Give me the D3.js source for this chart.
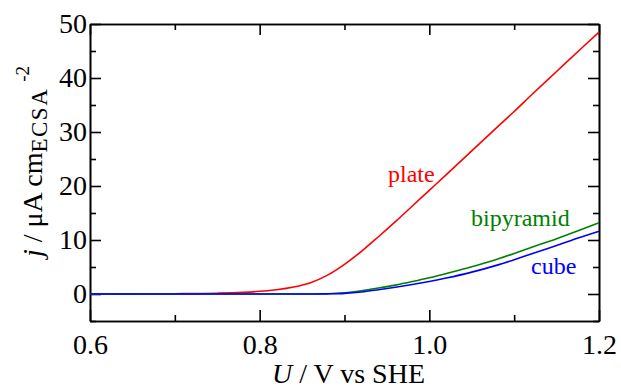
<!DOCTYPE html>
<html>
<head>
<meta charset="utf-8">
<script src="https://cdn.jsdelivr.net/npm/d3@7/dist/d3.min.js"></script>
<style>
  html, body { margin: 0; padding: 0; background: #fff; }
  svg { display: block; }
</style>
</head>
<body>
<svg id="chart" width="621" height="391" font-family="Liberation Serif"></svg>
<script>
// ---- data ----
const potential = [0.60, 0.65, 0.70, 0.75, 0.78, 0.80, 0.82, 0.84, 0.86, 0.88, 0.90, 0.92, 0.94, 0.96, 0.98, 1.00, 1.02, 1.05, 1.08, 1.10, 1.12, 1.15, 1.18, 1.20];
const plate     = [0.00, 0.02, 0.06, 0.15, 0.30, 0.50, 0.80, 1.30, 2.10, 3.50, 5.50, 7.90, 10.6, 13.4, 16.3, 19.2, 22.1, 26.5, 30.9, 33.8, 36.8, 41.2, 45.6, 48.5];
const bipyramid = [0.00, 0.00, 0.00, 0.00, 0.00, 0.00, 0.00, 0.00, 0.01, 0.06, 0.22, 0.60, 1.10, 1.65, 2.30, 3.00, 3.80, 5.05, 6.45, 7.50, 8.60, 10.25, 12.0, 13.2];
const cube      = [0.00, 0.00, 0.00, 0.00, 0.00, 0.00, 0.00, 0.00, 0.00, 0.03, 0.12, 0.38, 0.80, 1.25, 1.75, 2.30, 2.95, 4.05, 5.35, 6.35, 7.40, 9.00, 10.6, 11.6];
const seriesNames = ["plate", "bipyramid", "cube"];
const seriesColors = ["#ff0000", "#008000", "#0000ff"];
const xMajorTicks = [0.6, 0.8, 1.0, 1.2];
const xMinorTicks = [0.7, 0.9, 1.1];
const yMajorTicks = [0, 10, 20, 30, 40, 50];
const yMinorTicks = [-5, 5, 15, 25, 35, 45];

// ---- layout ----
const SERIF = "Liberation Serif";
const svg = d3.select("#chart");
const L = 90, R = 599, T = 24, B = 321;
const x = d3.scaleLinear().domain([0.6, 1.2]).range([L, R]);
const y = d3.scaleLinear().domain([-5, 50]).range([B, T]);
const FONT = 28;

svg.append("rect").attr("width", 621).attr("height", 391).attr("fill", "#fff");

function styleAxis(g) {
  g.attr("font-family", SERIF);
  g.selectAll("path.domain").attr("stroke", "#000").attr("stroke-width", 1.6);
  g.selectAll(".tick line").attr("stroke", "#000").attr("stroke-width", 1.6);
  g.selectAll(".tick text").attr("font-size", FONT).attr("fill", "#000").attr("font-family", SERIF);
}

// bottom axis
svg.append("g").attr("transform", `translate(0,${B})`)
  .call(d3.axisBottom(x).tickValues(xMajorTicks).tickSize(-11).tickSizeOuter(0).tickPadding(13).tickFormat(d3.format(".1f")))
  .call(styleAxis);
svg.append("g").attr("transform", `translate(0,${B})`)
  .call(d3.axisBottom(x).tickValues(xMinorTicks).tickSize(-6).tickSizeOuter(0).tickFormat(""))
  .call(styleAxis);
// top axis
svg.append("g").attr("transform", `translate(0,${T})`)
  .call(d3.axisTop(x).tickValues(xMajorTicks).tickSize(-11).tickSizeOuter(0).tickFormat(""))
  .call(styleAxis);
svg.append("g").attr("transform", `translate(0,${T})`)
  .call(d3.axisTop(x).tickValues(xMinorTicks).tickSize(-6).tickSizeOuter(0).tickFormat(""))
  .call(styleAxis);
// left axis
svg.append("g").attr("transform", `translate(${L},0)`)
  .call(d3.axisLeft(y).tickValues(yMajorTicks).tickSize(-11).tickSizeOuter(0).tickPadding(3).tickFormat(d3.format("d")))
  .call(styleAxis);
svg.append("g").attr("transform", `translate(${L},0)`)
  .call(d3.axisLeft(y).tickValues(yMinorTicks).tickSize(-6).tickSizeOuter(0).tickFormat(""))
  .call(styleAxis);
// right axis
svg.append("g").attr("transform", `translate(${R},0)`)
  .call(d3.axisRight(y).tickValues(yMajorTicks).tickSize(-11).tickSizeOuter(0).tickFormat(""))
  .call(styleAxis);
svg.append("g").attr("transform", `translate(${R},0)`)
  .call(d3.axisRight(y).tickValues(yMinorTicks).tickSize(-6).tickSizeOuter(0).tickFormat(""))
  .call(styleAxis);

// lines
const series = [plate, bipyramid, cube];
const line = d3.line().x(d => x(d[0])).y(d => y(d[1])).curve(d3.curveMonotoneX);
const plotG = svg.append("g");
series.forEach((vals, i) => {
  plotG.append("path")
    .datum(potential.map((u, k) => [u, vals[k]]))
    .attr("d", line)
    .attr("fill", "none")
    .attr("stroke", seriesColors[i])
    .attr("stroke-width", 1.6);
});

// series labels
const labelPos = [[388, 182], [471, 226], [531, 274]];
seriesNames.forEach((name, i) => {
  svg.append("text")
    .attr("x", labelPos[i][0]).attr("y", labelPos[i][1])
    .attr("font-size", 24)
    .attr("font-family", SERIF)
    .attr("fill", seriesColors[i])
    .text(name);
});

// x axis title
const xt = svg.append("text").attr("x", 272).attr("y", 383).attr("font-size", FONT)
  .attr("font-family", SERIF).attr("fill", "#000");
xt.append("tspan").attr("font-style", "italic").text("U");
xt.append("tspan").text(" / V vs SHE");

// y axis title
const yt = svg.append("text")
  .attr("transform", "translate(42,257) rotate(-90)")
  .attr("font-family", SERIF)
  .attr("font-size", FONT).attr("fill", "#000");
yt.append("tspan").attr("font-style", "italic").text("j");
yt.append("tspan").text(" / μA cm");
yt.append("tspan").attr("font-size", 23).attr("dy", 5).attr("letter-spacing", 1.5).text("ECSA");
yt.append("tspan").attr("font-size", 19).attr("dy", -18).attr("dx", 6).text("-2");
</script>
</body>
</html>
